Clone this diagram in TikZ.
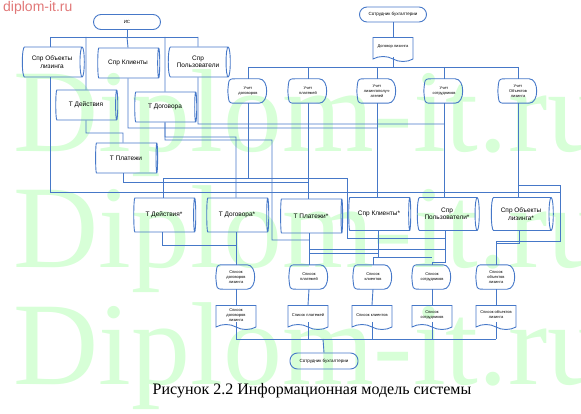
\documentclass[tikz,border=0pt]{standalone}
\usepackage{fontspec}
\setmainfont{Liberation Serif}
\setsansfont{Liberation Sans}
\usetikzlibrary{shapes.geometric,shapes.symbols,calc}
\definecolor{lnc}{RGB}{70,120,200}
\definecolor{wmc}{RGB}{215,255,215}
\definecolor{redc}{RGB}{225,120,120}
\tikzset{
  ln/.style={draw=lnc, line width=0.9pt},
  cyl/.style={cylinder, shape border rotate=0, aspect=0.35, draw=lnc, line width=0.9pt,
     minimum height=62pt, minimum width=30pt, inner sep=0pt, align=center,
     font=\sffamily\fontsize{6.5}{7.5}\selectfont},
  term/.style={rectangle, rounded corners=7.5pt, draw=lnc, line width=0.9pt,
     minimum width=67pt, minimum height=15pt, inner sep=0pt,
     font=\sffamily\fontsize{4.5}{5}\selectfont},
  disp/.style={rectangle, minimum width=40pt, minimum height=24pt, inner sep=0pt,
     align=center, font=\sffamily\fontsize{4}{5}\selectfont},
  docu/.style={tape, tape bend top=none, tape bend bottom=out and in, tape bend height=5pt,
     draw=lnc, line width=0.9pt, minimum width=40pt, minimum height=24pt, inner sep=1pt,
     align=center, font=\sffamily\fontsize{4}{5}\selectfont},
  wm/.style={text=wmc, font=\fontsize{118}{118}\selectfont, anchor=base west, inner sep=0pt}
}
\begin{document}
\begin{tikzpicture}[x=1pt,y=-1pt]
\useasboundingbox (0,0) rectangle (581,414);
% watermark
\node[wm] (wm1) at (13,152) {Diplom-it.ru};
\node[wm] (wm2) at (13,268) {Diplom-it.ru};
\node[wm] (wm3) at (13,384) {Diplom-it.ru};
\node[text=redc, font=\sffamily\fontsize{14}{14}\selectfont, anchor=north west, inner sep=0pt] (site) at (3,1) {diplom-it.ru};

% top-left group
\node[term] (is) at (127,22) {ИС};
\node[cyl] (sol) at (52,62) {Спр Объекты\\лизинга};
\node[cyl] (skl) at (128,63) {Спр Клиенты};
\node[cyl] (spo) at (198,62) {Спр\\Пользователи};
\node[cyl] (tde) at (86,105) {Т Действия};
\node[cyl] (tdo) at (165,107) {Т Договора};
\node[cyl] (tpl) at (126,158) {Т Платежи};

% top-right group
\node[term] (sb1) at (393,14.5) {Сотрудник бухгалтерии};
\node[docu] (dl) at (393,47) {Договор лизинга};
\node[disp] (u1) at (248,91) {Учет\\договоров};
\node[disp] (u2) at (308,91) {Учет\\платежей};
\node[disp] (u3) at (377,91) {Учет\\лизингополуч-\\ателей};
\node[disp] (u4) at (444,91) {Учет\\сотрудников};
\node[disp] (u5) at (518,91) {Учет\\Объектов\\лизинга};

% middle cylinders
\node[cyl, minimum width=34pt] (m1) at (164,215) {Т Действия*};
\node[cyl, minimum width=34pt] (m2) at (237,215) {Т Договора*};
\node[cyl, minimum width=34pt] (m3) at (311,216) {Т Платежи*};
\node[cyl, minimum width=33pt] (m4) at (379,214) {Спр Клиенты*};
\node[cyl, minimum width=33pt] (m5) at (447,214) {Спр\\Пользователи*};
\node[cyl, minimum width=33pt] (m6) at (521,214) {Спр Объекты\\лизинга*};

% bottom lists
\node[disp] (l1) at (236,277) {Список\\договоров\\лизинга};
\node[disp] (l2) at (309,277) {Список\\платежей};
\node[disp] (l3) at (373,277) {Список\\клиентов};
\node[disp] (l4) at (432,277) {Список\\сотрудников};
\node[disp] (l5) at (496,277) {Список\\объектов\\лизинга};
\node[docu] (d1) at (236,315) {Список\\договоров\\лизинга};
\node[docu] (d2) at (308,315) {Список платежей};
\node[docu] (d3) at (372,315) {Список клиентов};
\node[docu] (d4) at (432,315) {Список\\сотрудников};
\node[docu] (d5) at (496,315) {Список объектов\\лизинга};
\node[term, minimum width=68pt, minimum height=16pt] (sb2) at (324,361) {Сотрудник бухгалтерии};

% display outlines
\foreach \n in {u1,u2,u3,u4,u5,l1,l2,l3,l4,l5}{
  \draw[ln] ($(\n.north west)+(7,0)$) -- ($(\n.north east)+(-9,0)$)
    .. controls ($(\n.north east)+(1,0)$) and ($(\n.south east)+(1,0)$) .. ($(\n.south east)+(-9,0)$)
    -- ($(\n.south west)+(7,0)$)
    .. controls ($(\n.south west)+(1,0)$) .. (\n.west)
    .. controls ($(\n.north west)+(1,0)$) .. cycle;
}

% coordinates
\coordinate (b37) at (127,37);
\coordinate (b67) at (393,67);
\coordinate (b339) at (323,339);

% top-left connectors
\draw[ln] (is.south) -- (b37);
\draw[ln] (50,37) -- (198,37);
\draw[ln] (50,37) -- (sol.north -| 50,0);
\draw[ln] (86,37) -- (tde.north);
\draw[ln] (b37) -- (skl.north);
\draw[ln] (165,37) -- (tdo.north);
\draw[ln] (198,37) -- (spo.north);
\draw[ln] (tde.south) -- (86,133) -- (123,133) -- (tpl.north -| 123,0);
\draw[ln] (sol.south -| 50,0) -- (50,192) -- (560,192) -- (560,241) -- (496,241) -- (l5.north);
\draw[ln] (skl.south) -- (128,128) -- (377,128);
\draw[ln] (spo.south) -- (198,124) -- (444,124);
\draw[ln] (tdo.south) -- (165,137) -- (236,137) -- (m2.north -| 236,0);
\draw[ln] (tdo.south) -- (165,140) -- (272,140) -- (272,240) -- (309,240);
\draw[ln] (tpl.south -| 123,0) -- (123,182) -- (309,182);

% top-right connectors
\draw[ln] (sb1.south) -- (dl.north);
\draw[ln] (dl.south) -- (b67);
\draw[ln] (248,67) -- (518,67);
\foreach \n in {u1,u2,u3,u4,u5}{ \draw[ln] (\n.north |- b67) -- (\n.north); }
\draw[ln] (u1.south) -- (248,178) -- (163,178) -- (m1.north -| 163,0);
\draw[ln] (u2.south) -- (m3.north -| u2.south);
\draw[ln] (u3.south) -- (m4.north -| u3.south);
\draw[ln] (u4.south) -- (m5.north -| u4.south);
\draw[ln] (u5.south) -- (m6.north -| u5.south);
\draw[ln] (518,185) -- (560,185) -- (560,192);
\draw[ln] (248,178) -- (347,178) -- (347,238) -- (445,238);

% middle to lists
\draw[ln] (m1.south -| 162,0) -- (162,245) -- (236,245);
\draw[ln] (m2.south -| 236,0) -- (l1.north);
\draw[ln] (m3.south -| 309,0) -- (l2.north);
\draw[ln] (m4.south -| 378,0) -- (378,253) -- (309,253);
\draw[ln] (378,253) -- (378,257) -- (373,257) -- (l3.north);
\draw[ln] (309,249) -- (445,249);
\draw[ln] (m5.south -| 445,0) -- (445,262) -- (432,262) -- (l4.north);
\draw[ln] (378,257) -- (432,257);
\draw[ln] (m6.south -| 519,0) -- (519,243) -- (496,243);

% lists to documents and bottom
\foreach \i in {1,...,5}{ \draw[ln] (l\i.south) -- (d\i.north); }
\foreach \i in {1,...,5}{ \draw[ln] ($(d\i.south)+(0,-3)$) -- (d\i.south |- b339); }
\draw[ln] (d1.south |- b339) -- (d5.south |- b339);
\draw[ln] (b339) -- (sb2.north);

% caption
\node[font=\fontsize{16}{18}\selectfont, anchor=base, inner sep=0pt] (cap) at (312,394) {Рисунок 2.2 Информационная модель системы};
\end{tikzpicture}
\end{document}
